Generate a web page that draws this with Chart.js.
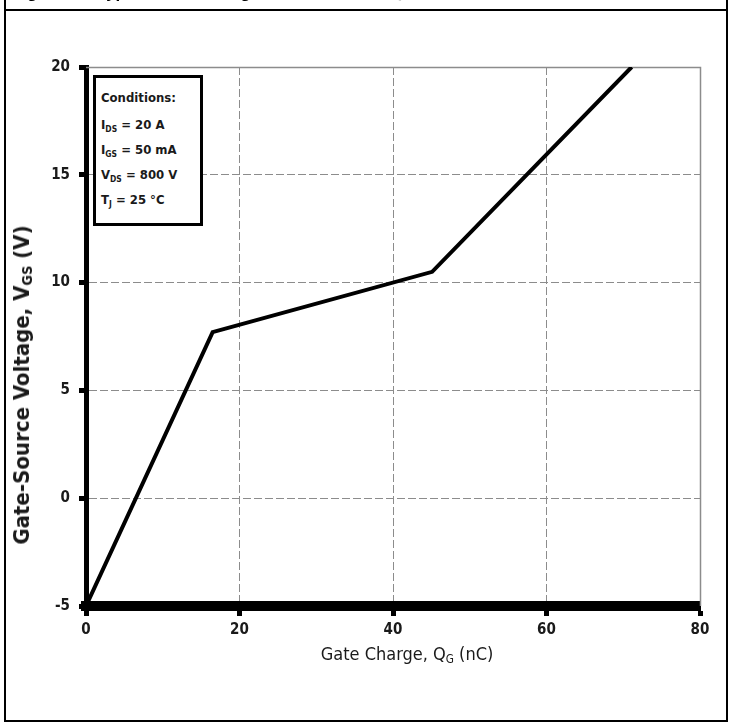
<!DOCTYPE html>
<html>
<head>
<meta charset="utf-8">
<script src="https://cdn.jsdelivr.net/npm/chart.js@4.4.1/dist/chart.umd.min.js"></script>
<style>
  html, body { margin: 0; padding: 0; background: #fff; }
  #wrap { position: relative; width: 732px; height: 727px; overflow: hidden; background: #fff; }
  #chart { position: absolute; left: 0; top: 0; }
  .vline { position: absolute; top: 0; width: 2px; height: 722px; background: #000; }
  .hline { position: absolute; left: 4px; width: 724px; height: 2px; background: #000; }
  #titleCell { position: absolute; left: 6px; top: 0; width: 720px; height: 9px; overflow: hidden; }
  #titleCell span { position: absolute; left: 6px; top: -16px; font: bold 17px "Liberation Sans", Arial, sans-serif; line-height: 17px; white-space: nowrap; }
  .nar { font-family: "Liberation Sans Narrow", "DejaVu Sans Condensed", sans-serif; color: #1a1a1a; }
  #legendBox { position: absolute; left: 93px; top: 75px; width: 104px; height: 145px; border: 3px solid #000; background: #fff; }
  #legendBox div { position: absolute; left: 5px; font-weight: bold; font-size: 13px; line-height: 16px; white-space: nowrap; }
  #legendBox sub, .ttl sub { font-size: 65%; vertical-align: -3px; }
  #yTitle { position: absolute; left: 22px; top: 385px; transform: translate(-50%, -50%) rotate(-90deg); font-weight: bold; font-size: 22px; white-space: nowrap; }
  #xTitle { position: absolute; left: 407px; top: 654px; transform: translate(-50%, -50%); font-size: 18px; white-space: nowrap; }
</style>
</head>
<body>
<div id="wrap">
  <canvas id="chart" width="732" height="727"></canvas>

  <div id="titleCell"><span>Figure 19. Typical Gate Charge Characteristics @ 25 °C</span></div>
  <div class="vline" style="left:4px"></div>
  <div class="vline" style="left:726px"></div>
  <div class="hline" style="top:9px"></div>
  <div class="hline" style="top:720px"></div>

  <div id="legendBox" class="nar">
    <div style="top:12px">Conditions:</div>
    <div style="top:39px">I<sub>DS</sub> = 20 A</div>
    <div style="top:64px">I<sub>GS</sub> = 50 mA</div>
    <div style="top:89px">V<sub>DS</sub> = 800 V</div>
    <div style="top:114px">T<sub>J</sub> = 25 °C</div>
  </div>

  <div id="yTitle" class="nar ttl">Gate-Source Voltage, V<sub>GS</sub> (V)</div>
  <div id="xTitle" class="nar ttl">Gate Charge, Q<sub>G</sub> (nC)</div>
</div>

<script>
// gate charge curve
const gateCharge = [0, 16.5, 45.1, 71.1];      // nC
const gateVoltage = [-5, 7.7, 10.5, 20];       // V

const xTicks = [0, 20, 40, 60, 80];
const yTicks = [-5, 0, 5, 10, 15, 20];

const tickFont = { family: '"Liberation Sans Narrow", "DejaVu Sans Condensed", sans-serif', size: 15, weight: 'bold' };
const gridGray = "#8c8c8c";

// solid frame on top / right edge of plot (grid at 20 V and 80 nC)
const frameLines = {
  id: "frameLines",
  beforeDatasetsDraw(chart) {
    const { ctx, chartArea: a } = chart;
    ctx.save();
    ctx.strokeStyle = gridGray;
    ctx.lineWidth = 1.5;
    ctx.beginPath();
    ctx.moveTo(a.left, a.top + 0.5);
    ctx.lineTo(a.right + 0.5, a.top + 0.5);
    ctx.lineTo(a.right + 0.5, a.bottom);
    ctx.stroke();
    ctx.restore();
  }
};

const ctx = document.getElementById("chart");

new Chart(ctx, {
  type: "scatter",
  data: {
    datasets: [{
      data: gateCharge.map((q, i) => ({ x: q, y: gateVoltage[i] })),
      showLine: true,
      borderColor: "#000",
      borderWidth: 4,
      pointRadius: 0,
      tension: 0
    }]
  },
  options: {
    responsive: false,
    animation: false,
    devicePixelRatio: 1,
    layout: { padding: { left: 0, top: 67, right: 32, bottom: 0 } },
    plugins: {
      legend: { display: false },
      tooltip: { enabled: false }
    },
    scales: {
      x: {
        type: "linear",
        min: xTicks[0],
        max: xTicks[xTicks.length - 1],
        afterBuildTicks: s => { s.ticks = xTicks.map(v => ({ value: v })); },
        afterFit: s => { s.height = 121; },
        ticks: { font: tickFont, color: "#1a1a1a", padding: 5, maxRotation: 0 },
        grid: { color: gridGray, lineWidth: 1, tickLength: 10, tickWidth: 5, tickColor: "#000", tickBorderDash: [] },
        border: { display: true, color: "#000", width: 10, dash: [8, 3] }
      },
      y: {
        type: "linear",
        min: yTicks[0],
        max: yTicks[yTicks.length - 1],
        afterBuildTicks: s => { s.ticks = yTicks.map(v => ({ value: v })); },
        afterFit: s => { s.width = 86; },
        ticks: { font: tickFont, color: "#1a1a1a", padding: 9 },
        grid: { color: gridGray, lineWidth: 1, tickLength: 7, tickWidth: 5, tickColor: "#000", tickBorderDash: [] },
        border: { display: true, color: "#000", width: 5, dash: [8, 3] }
      }
    }
  },
  plugins: [frameLines]
});
</script>
</body>
</html>
